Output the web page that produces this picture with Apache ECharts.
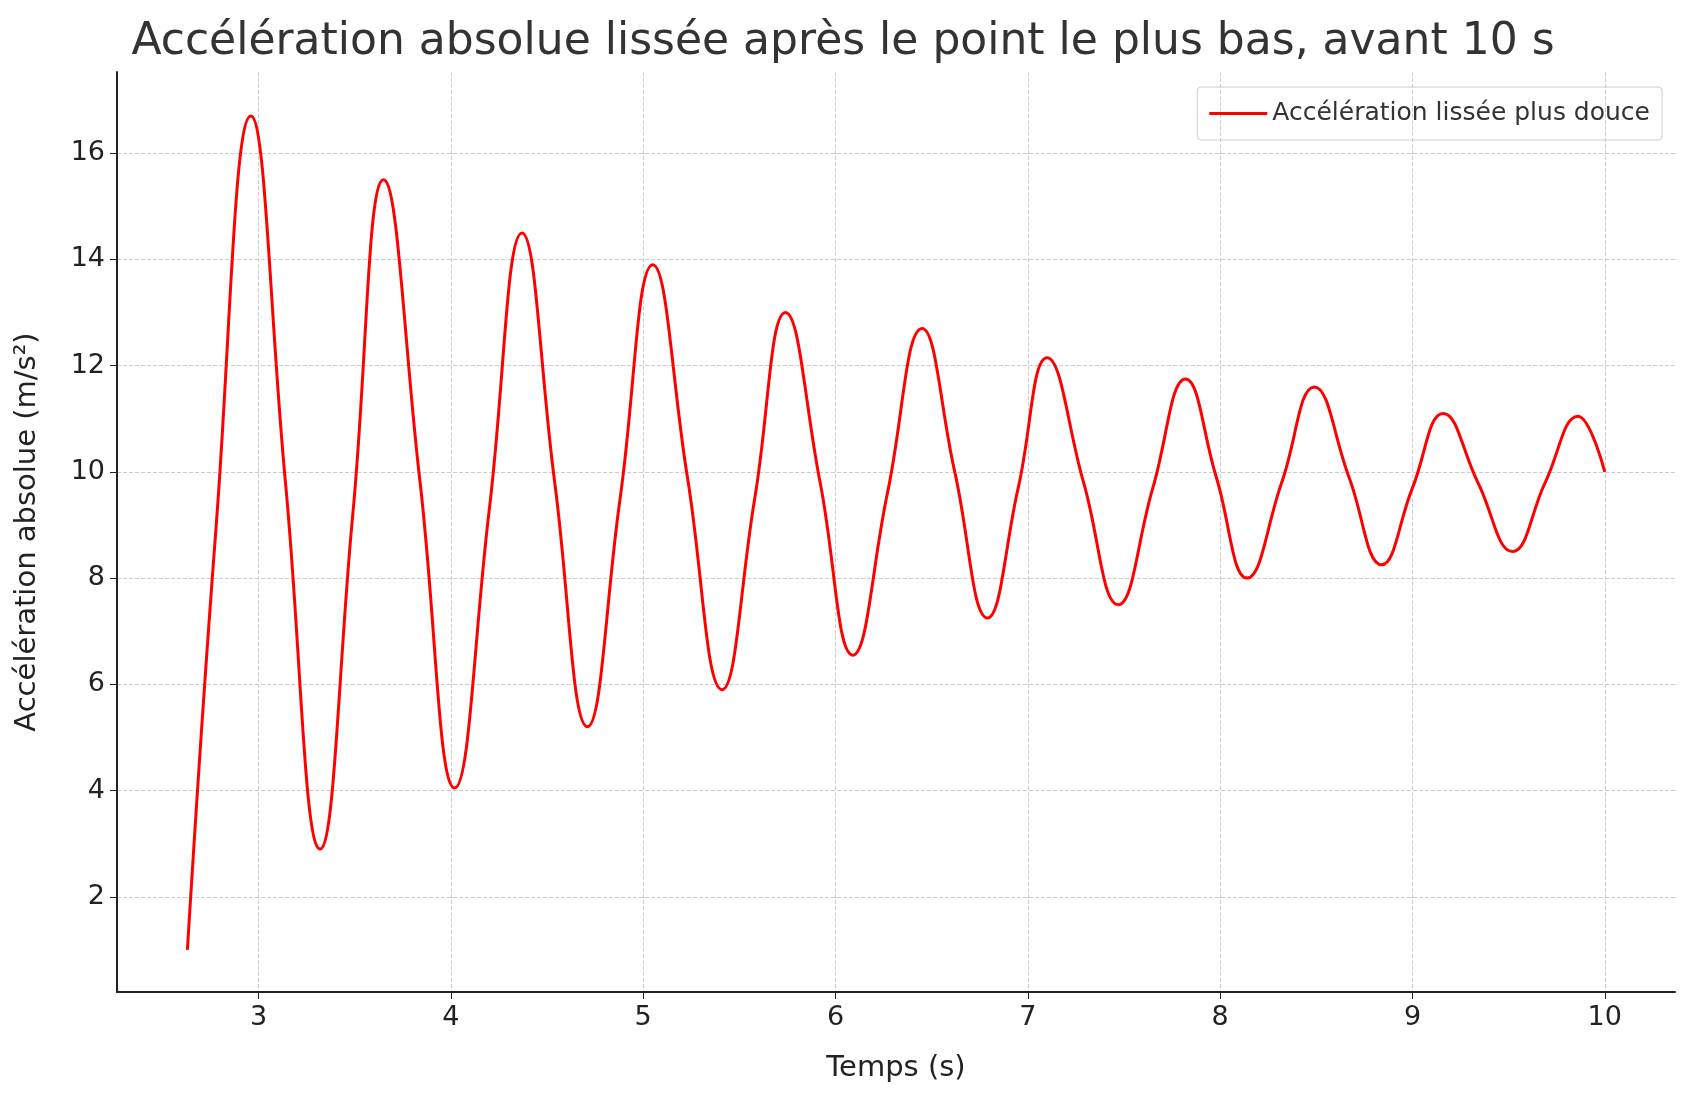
<!DOCTYPE html>
<html><head><meta charset="utf-8">
<script src="https://cdn.jsdelivr.net/npm/echarts@6/dist/echarts.min.js"></script>
<style>html,body{margin:0;padding:0;background:#fff}#c{width:1686px;height:1103px}</style>
</head><body><div id="c"></div>
<script>
const times = [2.63,2.78,2.96,3.14,3.32,3.49,3.65,3.84,4.02,4.2,4.37,4.54,4.71,4.88,5.05,5.23,5.41,5.58,5.74,5.92,6.09,6.27,6.45,6.62,6.79,6.95,7.1,7.29,7.47,7.65,7.82,7.98,8.14,8.32,8.49,8.67,8.84,9.0,9.16,9.34,9.52,9.69,9.86,10.0];
const accel = [1.0,9.0,16.7,9.8,2.9,9.2,15.5,9.8,4.05,9.3,14.5,9.8,5.2,9.5,13.9,9.9,5.9,9.5,13.0,9.8,6.55,9.6,12.7,10.0,7.25,9.7,12.15,9.8,7.5,9.7,11.75,9.9,8.0,9.8,11.6,9.9,8.25,9.7,11.1,9.8,8.5,9.8,11.05,10.0];
const xTicks = [3,4,5,6,7,8,9,10];
const yTicks = [2,4,6,8,10,12,14,16];
const data = times.map((t,i)=>[t,accel[i]]);
const font = 'DejaVu Sans';
const chart = echarts.init(document.getElementById('c'));
chart.setOption({
  animation:false,
  textStyle:{fontFamily:font},
  title:{text:'Accélération absolue lissée après le point le plus bas, avant 10 s',left:'center',top:16,
    textStyle:{fontFamily:font,fontSize:44,fontWeight:'normal',color:'#333'}},
  legend:{top:87,right:24,itemWidth:58,itemHeight:3,icon:'rect',itemGap:10,padding:[14,12],borderColor:'#ccc',borderWidth:1,borderRadius:4,
    textStyle:{fontFamily:font,fontSize:25,color:'#333'}},
  grid:{left:117,right:11,top:72,bottom:111},
  xAxis:{type:'value',min:2.264,max:10.365,name:'Temps (s)',nameLocation:'middle',nameGap:62,
    nameTextStyle:{fontSize:29,color:'#222'},
    axisLine:{lineStyle:{color:'#222',width:2}},
    axisLabel:{fontSize:27,color:'#222',margin:12,customValues:xTicks},
    axisTick:{customValues:xTicks,length:7,lineStyle:{color:'#222'}},
    splitLine:{show:true,lineStyle:{type:'dashed',color:'#ccc'}}},
  yAxis:{type:'value',min:0.207,max:17.53,name:'Accélération absolue (m/s²)',nameLocation:'middle',nameGap:75,
    nameTextStyle:{fontSize:29,color:'#222'},
    axisLine:{show:true,lineStyle:{color:'#222',width:2}},
    axisTick:{show:true,customValues:yTicks,length:7,lineStyle:{color:'#222'}},
    axisLabel:{fontSize:27,color:'#222',margin:12,customValues:yTicks},
    splitLine:{show:true,lineStyle:{type:'dashed',color:'#ccc'}}},
  series:[{name:'Accélération lissée plus douce',type:'line',data:data,smooth:0.45,showSymbol:false,
    lineStyle:{color:'#ff0000',width:3},itemStyle:{color:'#ff0000'}}]
});
</script></body></html>
